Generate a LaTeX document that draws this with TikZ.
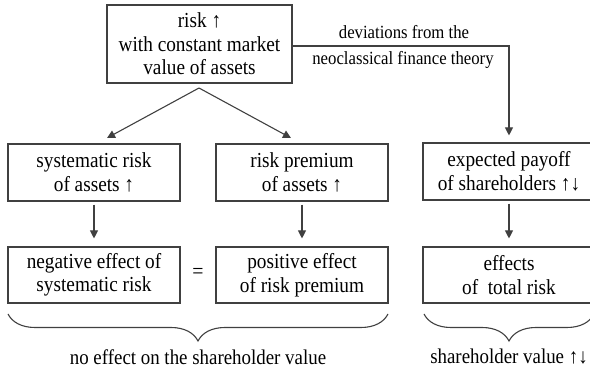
\documentclass[tikz,border=0pt]{standalone}
\usepackage{fontspec}
\setmainfont[FakeStretch=0.9]{Liberation Serif}
\usetikzlibrary{arrows.meta,decorations.pathreplacing}
\tikzset{
  box/.style={draw=black!75, line width=1.1pt, minimum width=172pt, minimum height=57pt,
    align=center, inner sep=2pt, font=\fontsize{21.4}{23.5}\selectfont},
  arr/.style={draw=black!75, line width=1.1pt, -{Triangle[length=8pt,width=8pt]}},
  lbl/.style={font=\fontsize{18.6}{20}\selectfont, inner sep=0pt},
  blbl/.style={font=\fontsize{21}{22}\selectfont, inner sep=0pt},
  brc/.style={draw=black!75, line width=1.1pt, decorate, decoration={brace, amplitude=27pt}}
}
\begin{document}
\begin{tikzpicture}[x=1pt,y=-1pt]
\useasboundingbox (0,0) rectangle (590,371);
% top box
\node[box, minimum width=185pt, minimum height=78pt] (top) at (199.5,44)
  {risk ↑\\with constant market\\value of assets};
% row 2
\node[box] (l2) at (94,172.5) {systematic risk\\of assets ↑};
\node[box] (m2) at (302,172.5) {risk premium\\of assets ↑};
\node[box] (r2) at (509,171.5) {expected payoff\\of shareholders ↑↓};
% row 3
\node[box, minimum height=56pt] (l3) at (94,275) {negative effect of\\systematic risk};
\node[box, minimum height=56pt] (m3) at (302,275) {positive effect\\of risk premium};
\node[box, minimum height=56pt] (r3) at (509,275) {effects\\of\ \ total risk};
\node[font=\fontsize{22}{24}\selectfont, inner sep=0pt] (eq) at (198,273) {=};
% diagonal arrows
\coordinate (pk) at (199,88);
\coordinate (tl) at (107,138);
\coordinate (tm) at (291,138);
\draw[arr] (pk) -- (tl);
\draw[arr] (pk) -- (tm);
% vertical arrows
\draw[arr, shorten <=3pt, shorten >=8pt] (l2) -- (l3);
\draw[arr, shorten <=3pt, shorten >=8pt] (m2) -- (m3);
\draw[arr, shorten <=3pt, shorten >=8pt] (r2) -- (r3);
% deviation path
\coordinate (st) at (292,46);
\coordinate (cr) at (509,46);
\draw[arr, shorten >=7pt] (st) -- (cr) -- (r2.north);
\node[lbl] (d1) at (404,32) {deviations from the};
\node[lbl] (d2) at (403,60) {neoclassical finance theory};
% braces
\coordinate (b1a) at (388,314);
\coordinate (b1b) at (8,314);
\coordinate (b2a) at (594,314);
\coordinate (b2b) at (424,314);
\draw[brc] (b1a) -- (b1b);
\draw[brc] (b2a) -- (b2b);
\node[blbl] (n1) at (198,357) {no effect on the shareholder value};
\node[blbl] (n2) at (509,357) {shareholder value ↑↓};
\end{tikzpicture}
\end{document}
